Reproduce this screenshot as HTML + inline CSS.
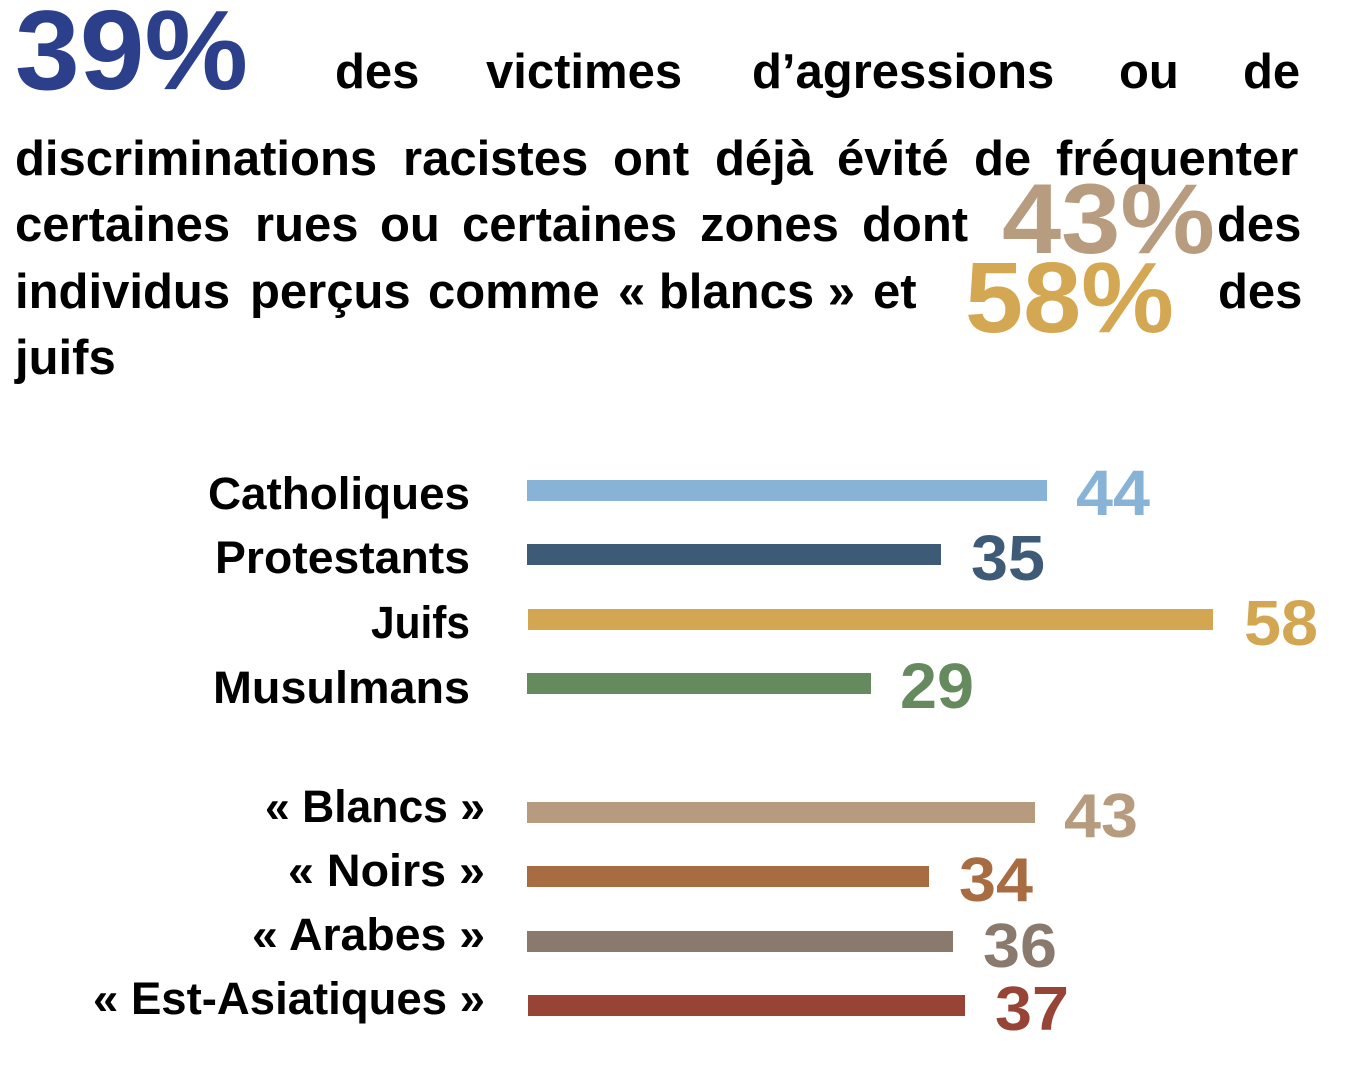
<!DOCTYPE html>
<html>
<head>
<meta charset="utf-8">
<style>
  html, body { margin: 0; padding: 0; background: #ffffff; }
  body { width: 1364px; height: 1066px; overflow: hidden; }
  svg { display: block; }
  text { font-family: "Liberation Sans", Arial, sans-serif; font-weight: bold; }
</style>
</head>
<body>
<svg width="1364" height="1066" viewBox="0 0 1364 1066" xmlns="http://www.w3.org/2000/svg">
  <rect x="0" y="0" width="1364" height="1066" fill="#ffffff"/>

  <!-- Header paragraph -->
  <text x="15" y="89" font-size="113" fill="#2c3f8b" textLength="233" lengthAdjust="spacingAndGlyphs">39%</text>

  <g font-size="49" fill="#000000">
    <!-- line 1 -->
    <text x="335" y="88">des</text>
    <text x="486" y="88">victimes</text>
    <text x="752" y="88">d’agressions</text>
    <text x="1119" y="88">ou</text>
    <text x="1243" y="88">de</text>

    <!-- line 2 -->
    <text x="15" y="175">discriminations</text>
    <text x="403" y="175">racistes</text>
    <text x="613" y="175">ont</text>
    <text x="715" y="175">déjà</text>
    <text x="837" y="175">évité</text>
    <text x="974" y="175">de</text>
    <text x="1056" y="175">fréquenter</text>

    <!-- line 3 -->
    <text x="15" y="241">certaines</text>
    <text x="255" y="241">rues</text>
    <text x="380" y="241">ou</text>
    <text x="462" y="241">certaines</text>
    <text x="700" y="241">zones</text>
    <text x="862" y="241">dont</text>
    <text x="1217" y="241">des</text>

    <!-- line 4 -->
    <text x="15" y="308">individus</text>
    <text x="250" y="308">perçus</text>
    <text x="428" y="308">comme</text>
    <text x="618" y="308">« blancs »</text>
    <text x="873" y="308">et</text>
    <text x="1218" y="308">des</text>

    <!-- line 5 -->
    <text x="15" y="374">juifs</text>
  </g>

  <text x="1002" y="253" font-size="99" fill="#b79c7f" textLength="213" lengthAdjust="spacingAndGlyphs">43%</text>
  <text x="965" y="332" font-size="100" fill="#d4a853" textLength="209" lengthAdjust="spacingAndGlyphs">58%</text>

  <!-- Category labels -->
  <g font-size="45" fill="#000000" text-anchor="end">
    <text x="470" y="509" textLength="262" lengthAdjust="spacingAndGlyphs">Catholiques</text>
    <text x="470" y="573" textLength="255" lengthAdjust="spacingAndGlyphs">Protestants</text>
    <text x="470" y="638" textLength="99" lengthAdjust="spacingAndGlyphs">Juifs</text>
    <text x="470" y="703" textLength="257" lengthAdjust="spacingAndGlyphs">Musulmans</text>
    <text x="485" y="822" textLength="220" lengthAdjust="spacingAndGlyphs">« Blancs »</text>
    <text x="485" y="886" textLength="197" lengthAdjust="spacingAndGlyphs">« Noirs »</text>
    <text x="485" y="950" textLength="233" lengthAdjust="spacingAndGlyphs">« Arabes »</text>
    <text x="485" y="1014" textLength="392" lengthAdjust="spacingAndGlyphs">« Est-Asiatiques »</text>
  </g>

  <!-- Bars -->
  <rect x="527" y="480" width="520" height="21" fill="#88b2d6"/>
  <rect x="527" y="544" width="414" height="21" fill="#3d5b77"/>
  <rect x="528" y="609" width="685" height="21" fill="#d3a752"/>
  <rect x="527" y="673" width="344" height="21" fill="#648a5e"/>

  <rect x="527" y="802" width="508" height="21" fill="#b69b7e"/>
  <rect x="527" y="866" width="402" height="21" fill="#a86c42"/>
  <rect x="527" y="931" width="426" height="21" fill="#8a7a6d"/>
  <rect x="528" y="995" width="437" height="21" fill="#974436"/>

  <!-- Values -->
  <g font-size="64">
    <text x="1076" y="515" fill="#88b2d6" textLength="74" lengthAdjust="spacingAndGlyphs">44</text>
    <text x="971" y="580" fill="#3d5b77" textLength="74" lengthAdjust="spacingAndGlyphs">35</text>
    <text x="1244" y="645" fill="#d3a752" textLength="74" lengthAdjust="spacingAndGlyphs">58</text>
    <text x="900" y="708" fill="#648a5e" textLength="74" lengthAdjust="spacingAndGlyphs">29</text>
  </g>
  <g font-size="62">
    <text x="1064" y="837" fill="#b69b7e" textLength="74" lengthAdjust="spacingAndGlyphs">43</text>
    <text x="959" y="901" fill="#a86c42" textLength="74" lengthAdjust="spacingAndGlyphs">34</text>
    <text x="983" y="967" fill="#8a7a6d" textLength="74" lengthAdjust="spacingAndGlyphs">36</text>
    <text x="995" y="1030" fill="#974436" textLength="74" lengthAdjust="spacingAndGlyphs">37</text>
  </g>
</svg>
</body>
</html>
